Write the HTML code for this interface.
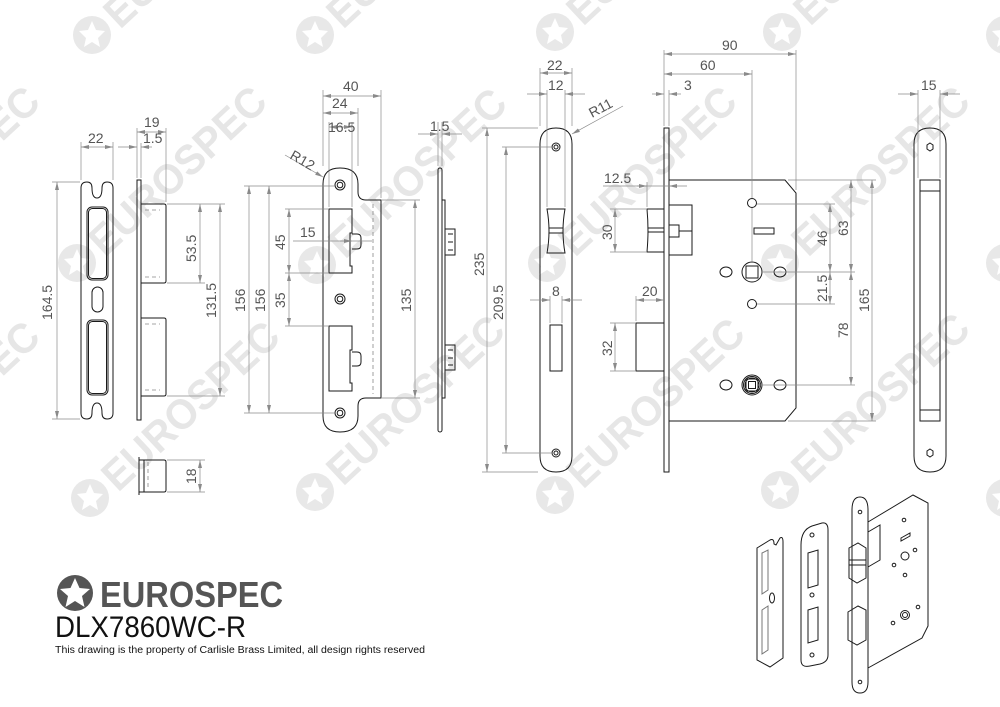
<!DOCTYPE html>
<html><head><meta charset="utf-8"><style>
html,body{margin:0;padding:0;background:#fff;}
svg{display:block;}
.o{fill:none;stroke:#1a1a1a;stroke-width:1;}
.h{fill:none;stroke:#888;stroke-width:0.8;stroke-dasharray:4 3;}
.d{fill:none;stroke:#8a8a8a;stroke-width:0.7;}
.dm{fill:none;stroke:#8a8a8a;stroke-width:0.7;marker-start:url(#a);marker-end:url(#a);}
.t{font-family:"Liberation Sans",sans-serif;font-size:14px;fill:#555;}
.wm{font-family:"Liberation Sans",sans-serif;font-weight:bold;font-size:42px;fill:#e6e6e6;}
</style></head><body>
<svg width="1000" height="707" viewBox="0 0 1000 707" xmlns="http://www.w3.org/2000/svg">
<defs>
<marker id="a" viewBox="0 0 8 4" refX="8" refY="2" markerWidth="8" markerHeight="4" markerUnits="userSpaceOnUse" orient="auto-start-reverse"><path d="M0,0 L8,2 L0,4z" fill="#8a8a8a"/></marker>
<g id="star"><circle r="19" fill="#e8e8e8"/><path d="M0,-14 L4,-5 L13,-4 L6,3 L8,12 L0,7 L-8,12 L-6,3 L-13,-4 L-4,-5z" fill="#fff"/></g>
<g id="wmk"><use href="#star"/><text class="wm" transform="translate(28,-5) rotate(-43)" textLength="225" lengthAdjust="spacingAndGlyphs">EUROSPEC</text></g>
</defs>
<!-- watermarks -->
<use href="#wmk" x="92" y="35"/><use href="#wmk" x="315" y="35"/><use href="#wmk" x="555" y="32"/><use href="#wmk" x="782" y="32"/>
<use href="#wmk" x="77" y="263"/><use href="#wmk" x="317" y="265"/><use href="#wmk" x="547" y="263"/><use href="#wmk" x="780" y="263"/>
<use href="#wmk" x="90" y="498"/><use href="#wmk" x="315" y="492"/><use href="#wmk" x="555" y="495"/><use href="#wmk" x="780" y="490"/>
<use href="#wmk" x="-150" y="263"/><use href="#wmk" x="-150" y="498"/><use href="#wmk" x="1005" y="263"/><use href="#wmk" x="1005" y="498"/><use href="#wmk" x="1005" y="35"/>

<!-- 1: strip front -->
<path class="o" d="M81,188 Q81,182 87,182 Q92,182 92,188 Q92,198 97,198 Q102,198 102,188 Q102,182 107,182 Q113,182 113,188 L113,413 Q113,419 107,419 Q102,419 102,413 Q102,403 97,403 Q92,403 92,413 Q92,419 87,419 Q81,419 81,413Z"/>
<rect class="o" x="87" y="207" width="21" height="73" rx="5"/>
<rect class="o" x="88.5" y="208.5" width="18" height="70" rx="4" stroke="#999"/>
<rect class="o" x="92" y="287" width="11" height="25" rx="5.5"/>
<rect class="o" x="87" y="320" width="21" height="75" rx="5"/>
<rect class="o" x="88.5" y="321.5" width="18" height="72" rx="4" stroke="#999"/>
<line class="d" x1="81" y1="180" x2="81" y2="142"/><line class="d" x1="113" y1="180" x2="113" y2="142"/>
<line class="dm" x1="81" y1="147" x2="113" y2="147"/><text class="t" x="88" y="143">22</text>
<line class="d" x1="80" y1="182" x2="52" y2="182"/><line class="d" x1="80" y1="419" x2="52" y2="419"/>
<line class="dm" x1="57" y1="182" x2="57" y2="419"/><text class="t" transform="translate(52,320) rotate(-90)">164.5</text>

<!-- 2: strip side -->
<rect class="o" x="137" y="180" width="4" height="240"/>
<path class="o" d="M141,204 H164 Q166,204 166,206 V281 Q166,283 164,283 H141"/>
<path class="o" d="M141,318 H164 Q166,318 166,320 V394 Q166,396 164,396 H141"/>
<line class="h" x1="145" y1="210" x2="160" y2="210"/><line class="h" x1="145" y1="277" x2="160" y2="277"/><line class="h" x1="145" y1="324" x2="160" y2="324"/><line class="h" x1="145" y1="390" x2="160" y2="390"/>
<line class="d" x1="137" y1="178" x2="137" y2="128"/><line class="d" x1="166" y1="202" x2="166" y2="128"/><line class="d" x1="141" y1="178" x2="141" y2="143"/>
<line class="dm" x1="137" y1="132" x2="166" y2="132"/><text class="t" x="144" y="127">19</text>
<line class="d" x1="118" y1="147" x2="137" y2="147" marker-end="url(#a)"/><line class="dm" x1="141" y1="147" x2="152" y2="147" style="marker-end:none"/><text class="t" x="143" y="143">1.5</text>
<line class="d" x1="167" y1="204" x2="225" y2="204"/><line class="d" x1="167" y1="283" x2="205" y2="283"/><line class="d" x1="167" y1="396" x2="225" y2="396"/>
<line class="dm" x1="200" y1="204" x2="200" y2="283"/><text class="t" transform="translate(196,262) rotate(-90)">53.5</text>
<line class="dm" x1="220" y1="204" x2="220" y2="396"/><text class="t" transform="translate(216,318) rotate(-90)">131.5</text>
<!-- small cylinder -->
<path class="o" d="M139,457 V495 M139,460 H144 V492 H139 M144,460 H164 Q166,460 166,462 V490 Q166,492 164,492 H144"/>
<line class="h" x1="148" y1="462" x2="148" y2="490"/>
<line class="d" x1="167" y1="460" x2="205" y2="460"/><line class="d" x1="167" y1="492" x2="205" y2="492"/>
<line class="dm" x1="200" y1="460" x2="200" y2="492"/><text class="t" transform="translate(196,484) rotate(-90)">18</text>

<!-- 3: strike plate -->
<path class="o" d="M323,184 Q323,168 340,168 Q358,168 358,184 V192 Q358,200 366,200 H381 V398 H366 Q358,398 358,406 V416 Q358,432 340,432 Q323,432 323,416Z"/>
<line class="h" x1="373" y1="204" x2="373" y2="394"/>
<circle class="o" cx="340" cy="185" r="5"/><circle class="o" cx="340" cy="185" r="2.8"/>
<circle class="o" cx="340" cy="299" r="5"/><circle class="o" cx="340" cy="299" r="2.8"/>
<circle class="o" cx="340" cy="413" r="5"/><circle class="o" cx="340" cy="413" r="2.8"/>
<path class="o" d="M329,209 H352 V233 H350 V266 H352 V273 H329Z"/>
<path class="o" d="M352,234 H357 Q361,234 361,238 V245 Q361,249 357,249 H352"/>
<path class="o" d="M329,326 H352 V350 H350 V383 H352 V391 H329Z"/>
<path class="o" d="M352,352 H357 Q361,352 361,356 V362 Q361,366 357,366 H352"/>
<line class="d" x1="323" y1="166" x2="323" y2="90"/><line class="d" x1="381" y1="198" x2="381" y2="90"/><line class="d" x1="358" y1="166" x2="358" y2="108"/><line class="d" x1="329" y1="207" x2="329" y2="122"/><line class="d" x1="352" y1="207" x2="352" y2="122"/>
<line class="dm" x1="323" y1="96" x2="381" y2="96"/><text class="t" x="343" y="91">40</text>
<line class="dm" x1="323" y1="113" x2="358" y2="113"/><text class="t" x="332" y="108">24</text>
<line class="dm" x1="329" y1="127" x2="352" y2="127"/><text class="t" x="328" y="132" font-size="13">16.5</text>
<line class="d" x1="285" y1="155" x2="323" y2="177" marker-end="url(#a)"/><text class="t" transform="translate(289,158) rotate(30)">R12</text>
<line class="d" x1="335" y1="186" x2="244" y2="186"/><line class="d" x1="335" y1="413" x2="244" y2="413"/>
<line class="dm" x1="249" y1="186" x2="249" y2="413"/><text class="t" transform="translate(245,312) rotate(-90)">156</text>
<line class="dm" x1="269" y1="186" x2="269" y2="413"/><text class="t" transform="translate(265,312) rotate(-90)">156</text>
<line class="d" x1="328" y1="209" x2="285" y2="209"/><line class="d" x1="328" y1="273" x2="285" y2="273"/><line class="d" x1="328" y1="326" x2="285" y2="326"/>
<line class="dm" x1="289" y1="209" x2="289" y2="273"/><text class="t" transform="translate(285,250) rotate(-90)">45</text>
<line class="dm" x1="289" y1="273" x2="289" y2="326"/><text class="t" transform="translate(285,308) rotate(-90)">35</text>
<line class="d" x1="293" y1="241" x2="372" y2="241"/><line class="d" x1="340" y1="241" x2="352" y2="241" marker-end="url(#a)"/><text class="t" x="300" y="237">15</text>
<line class="d" x1="382" y1="200" x2="420" y2="200"/><line class="d" x1="382" y1="398" x2="420" y2="398"/>
<line class="dm" x1="415" y1="200" x2="415" y2="398"/><text class="t" transform="translate(411,312) rotate(-90)">135</text>

<!-- 4: strike side -->
<rect class="o" x="438" y="168" width="4" height="264" rx="2"/>
<rect class="o" x="442" y="200" width="3" height="198"/>
<path class="o" d="M445,229 H455 V255 H445 M448,234 H453 M448,242 H453 M448,250 H453"/>
<path class="o" d="M445,345 H455 V370 H445 M448,350 H453 M448,358 H453 M448,365 H453"/>
<line class="d" x1="438" y1="166" x2="438" y2="122"/><line class="d" x1="442" y1="166" x2="442" y2="122"/>
<line class="d" x1="418" y1="134" x2="438" y2="134" marker-end="url(#a)"/><line class="d" x1="462" y1="134" x2="442" y2="134" marker-end="url(#a)"/><text class="t" x="430" y="131">1.5</text>

<!-- 5: faceplate front -->
<path class="o" d="M540,144 Q540,128 556,128 Q572,128 572,144 V456 Q572,472 556,472 Q540,472 540,456Z"/>
<circle class="o" cx="556" cy="147" r="4"/><circle class="o" cx="556" cy="147" r="2"/>
<circle class="o" cx="556" cy="453" r="4"/><circle class="o" cx="556" cy="453" r="2"/>
<path class="o" d="M547,209 H565 Q563,220 563,231 Q563,242 565,253 H547 Q549,242 549,231 Q549,220 547,209Z M549,228 H563 M549,233 H563"/>
<rect class="o" x="550" y="325" width="12" height="46"/>
<line class="d" x1="540" y1="126" x2="540" y2="68"/><line class="d" x1="572" y1="126" x2="572" y2="68"/><line class="d" x1="547" y1="207" x2="547" y2="90"/><line class="d" x1="565" y1="207" x2="565" y2="90"/>
<line class="dm" x1="540" y1="73" x2="572" y2="73"/><text class="t" x="547" y="70">22</text>
<line class="d" x1="527" y1="94" x2="547" y2="94" marker-end="url(#a)"/><line class="d" x1="585" y1="94" x2="565" y2="94" marker-end="url(#a)"/><text class="t" x="548" y="90">12</text>
<line class="d" x1="623" y1="106" x2="572" y2="134" marker-end="url(#a)"/><text class="t" transform="translate(592,118) rotate(-28)">R11</text>
<line class="d" x1="538" y1="128" x2="482" y2="128"/><line class="d" x1="551" y1="147" x2="502" y2="147"/><line class="d" x1="551" y1="453" x2="502" y2="453"/><line class="d" x1="538" y1="472" x2="482" y2="472"/>
<line class="dm" x1="487" y1="128" x2="487" y2="472"/><text class="t" transform="translate(484,276) rotate(-90)">235</text>
<line class="dm" x1="506" y1="147" x2="506" y2="453"/><text class="t" transform="translate(503,320) rotate(-90)">209.5</text>
<line class="d" x1="550" y1="323" x2="550" y2="296"/><line class="d" x1="562" y1="323" x2="562" y2="296"/>
<line class="d" x1="530" y1="300" x2="550" y2="300" marker-end="url(#a)"/><line class="d" x1="582" y1="300" x2="562" y2="300" marker-end="url(#a)"/><text class="t" x="552" y="296">8</text>

<!-- 6: lock body side -->
<rect class="o" x="664" y="128" width="5" height="344"/>
<path class="o" d="M669,180 H785 L796,193 V408 L785,421 H669"/>
<rect class="o" x="669" y="205" width="23" height="50"/>
<rect class="o" x="669" y="225" width="10" height="12"/><line class="o" x1="679" y1="231" x2="692" y2="231"/>
<path class="o" d="M647,209 H664 V252 H647 Q648,240 648,231 Q648,220 647,209Z M648,228 H664 M648,232 H664"/>
<rect class="o" x="636" y="323" width="28" height="48"/>
<circle class="o" cx="752" cy="203" r="4.5"/>
<rect class="o" x="754" y="228" width="20" height="6"/>
<circle class="o" cx="752" cy="272" r="10"/><rect class="o" x="746" y="266" width="12" height="12"/>
<ellipse class="o" cx="726" cy="272" rx="6" ry="5"/><ellipse class="o" cx="780" cy="272" rx="6" ry="5"/>
<circle class="o" cx="752" cy="304" r="4.5"/>
<circle class="o" cx="752" cy="385" r="10"/><circle class="o" cx="752" cy="385" r="8.5"/><circle class="o" cx="752" cy="385" r="7"/><rect class="o" x="746" y="379" width="12" height="12"/><rect class="o" x="748.5" y="381.5" width="7" height="7"/>
<ellipse class="o" cx="726" cy="385" rx="6" ry="5"/><ellipse class="o" cx="780" cy="385" rx="6" ry="5"/>
<line class="d" x1="664" y1="126" x2="664" y2="50"/><line class="d" x1="796" y1="190" x2="796" y2="50"/><line class="d" x1="752" y1="198" x2="752" y2="70"/><line class="d" x1="752" y1="208" x2="752" y2="262"/><line class="d" x1="669" y1="126" x2="669" y2="90"/>
<line class="dm" x1="664" y1="54" x2="796" y2="54"/><text class="t" x="722" y="50">90</text>
<line class="dm" x1="664" y1="74" x2="752" y2="74"/><text class="t" x="700" y="70">60</text>
<line class="d" x1="652" y1="94" x2="664" y2="94" marker-end="url(#a)"/><line class="d" x1="681" y1="94" x2="669" y2="94" marker-end="url(#a)"/><text class="t" x="684" y="90">3</text>
<line class="d" x1="647" y1="207" x2="647" y2="182"/>
<line class="d" x1="603" y1="186" x2="687" y2="186"/><line class="d" x1="637" y1="186" x2="647" y2="186" marker-end="url(#a)"/><line class="d" x1="677" y1="186" x2="669" y2="186" marker-end="url(#a)"/><text class="t" x="604" y="183">12.5</text>
<line class="d" x1="646" y1="209" x2="610" y2="209"/><line class="d" x1="646" y1="252" x2="610" y2="252"/>
<line class="dm" x1="615" y1="209" x2="615" y2="252"/><text class="t" transform="translate(612,240) rotate(-90)">30</text>
<line class="d" x1="636" y1="321" x2="636" y2="296"/><line class="dm" x1="636" y1="300" x2="664" y2="300"/><text class="t" x="642" y="296">20</text>
<line class="d" x1="635" y1="323" x2="610" y2="323"/><line class="d" x1="635" y1="371" x2="610" y2="371"/>
<line class="dm" x1="615" y1="323" x2="615" y2="371"/><text class="t" transform="translate(612,356) rotate(-90)">32</text>
<line class="d" x1="757" y1="204" x2="835" y2="204"/><line class="d" x1="762" y1="272" x2="855" y2="272"/><line class="d" x1="757" y1="304" x2="835" y2="304"/><line class="d" x1="757" y1="385" x2="855" y2="385"/>
<line class="d" x1="788" y1="180" x2="876" y2="180"/><line class="d" x1="788" y1="421" x2="876" y2="421"/>
<line class="dm" x1="830" y1="204" x2="830" y2="272"/><text class="t" transform="translate(827,246) rotate(-90)">46</text>
<line class="dm" x1="830" y1="272" x2="830" y2="304"/><text class="t" transform="translate(827,302) rotate(-90)" font-size="13">21.5</text>
<line class="dm" x1="851" y1="180" x2="851" y2="272"/><text class="t" transform="translate(848,236) rotate(-90)">63</text>
<line class="dm" x1="851" y1="272" x2="851" y2="385"/><text class="t" transform="translate(848,338) rotate(-90)">78</text>
<line class="dm" x1="872" y1="180" x2="872" y2="421"/><text class="t" transform="translate(869,312) rotate(-90)">165</text>

<!-- 7: right faceplate -->
<path class="o" d="M914,144 Q914,128 930,128 Q946,128 946,144 V456 Q946,472 930,472 Q914,472 914,456Z"/>
<polygon class="o" points="930,143 933,145 933,149 930,151 927,149 927,145"/>
<polygon class="o" points="930,449 933,451 933,455 930,457 927,455 927,451"/>
<rect class="o" x="920" y="180" width="20" height="241"/>
<line class="o" x1="920" y1="191" x2="940" y2="191"/><line class="o" x1="920" y1="410" x2="940" y2="410"/>
<line class="d" x1="918" y1="178" x2="918" y2="90"/><line class="d" x1="940" y1="178" x2="940" y2="90"/>
<line class="d" x1="898" y1="94" x2="918" y2="94" marker-end="url(#a)"/><line class="d" x1="960" y1="94" x2="940" y2="94" marker-end="url(#a)"/><text class="t" x="921" y="90">15</text>

<!-- isometric -->
<g class="o" stroke-width="0.9">
<path d="M757,548 L770,540 Q774,538 774,544 L776,545 L780,538 Q783,536 783,542 L783,658 L770,667 L757,660Z"/>
<path d="M762,553 L768,550 L768,590 L762,594Z M762,610 L768,606 L768,650 L762,654Z" stroke="#777"/>
<ellipse cx="772" cy="598" rx="2.5" ry="5"/>
<path d="M801,545 Q801,530 812,526 L822,523 Q828,522 828,530 V655 Q828,662 820,664 L810,666 Q801,668 801,660Z"/>
<path d="M808,553 L818,550 L818,585 L808,588Z M808,610 L818,607 L818,640 L808,643Z"/>
<circle cx="812" cy="535" r="2"/><circle cx="812" cy="595" r="2"/><circle cx="812" cy="655" r="2"/>
<path d="M852,510 Q852,497 860,497 Q868,497 868,510 V682 Q868,693 860,693 Q852,693 852,682Z"/>
<circle cx="860" cy="512" r="1.8"/><circle cx="860" cy="682" r="1.8"/>
<path d="M849,548 L858,543 L866,548 V578 L857,583 L849,578Z M849,560 H866 M849,565 H866"/>
<path d="M848,612 L858,606 L866,610 V640 L857,645 L848,640Z"/>
<path d="M868,522 L913,495 L928,503 V626 L922,638 L868,668"/>
<path d="M868,532 L880,525 V560 L868,567"/>
<circle cx="904" cy="520" r="1.8"/><path d="M901,538 L910,533 V536 L901,541Z"/>
<circle cx="905" cy="556" r="4"/><circle cx="894" cy="565" r="1.8"/><circle cx="915" cy="550" r="1.8"/><circle cx="905" cy="575" r="1.8"/>
<circle cx="905" cy="615" r="4.5"/><circle cx="905" cy="615" r="2.5"/><circle cx="893" cy="623" r="1.8"/><circle cx="918" cy="607" r="1.8"/>
</g>

<!-- logo -->
<circle cx="75" cy="593" r="18" fill="#555"/>
<path d="M75,578 L79.5,588 L90,589 L82,596 L84.5,607 L75,601 L65.5,607 L68,596 L60,589 L70.5,588Z" fill="#fff"/>
<text x="100" y="607" font-family="'Liberation Sans Narrow','Liberation Sans',sans-serif" font-weight="bold" font-size="36" fill="#555" textLength="183" lengthAdjust="spacingAndGlyphs">EUROSPEC</text>
<text x="55" y="637" font-family="'Liberation Sans',sans-serif" font-size="30" fill="#111" textLength="191" lengthAdjust="spacingAndGlyphs">DLX7860WC-R</text>
<text x="55" y="653" font-family="'Liberation Sans',sans-serif" font-size="10" fill="#111" textLength="370" lengthAdjust="spacingAndGlyphs">This drawing is the property of Carlisle Brass Limited, all design rights reserved</text>
</svg>
</body></html>
